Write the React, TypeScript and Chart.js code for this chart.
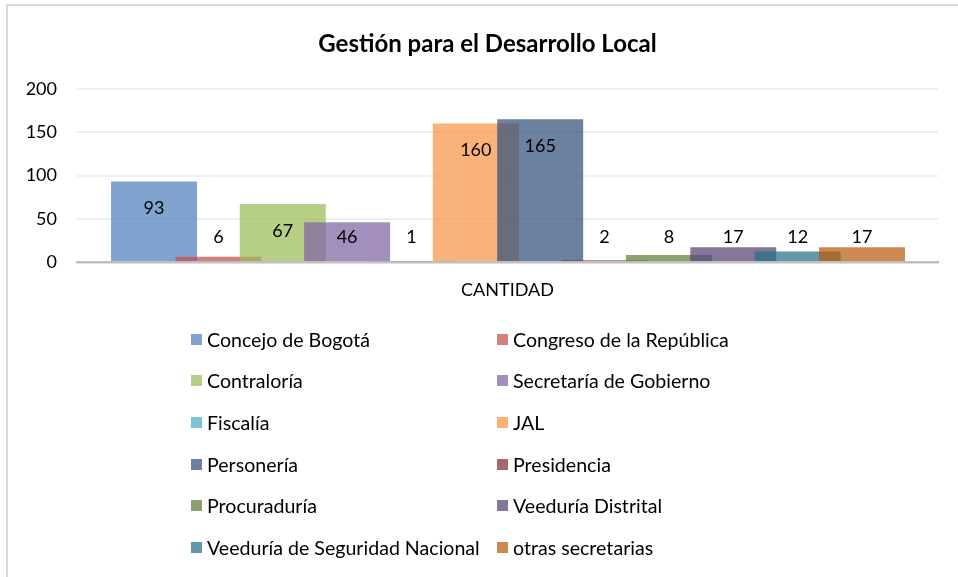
import React, { useEffect, useRef } from "react";
import { Chart, registerables } from "chart.js";

Chart.register(...registerables);

const chartTitle = "Gestión para el Desarrollo Local";
const categories = ["CANTIDAD"];
const seriesNames = [
  "Concejo de Bogotá",
  "Congreso de la República",
  "Contraloría",
  "Secretaría de Gobierno",
  "Fiscalía",
  "JAL",
  "Personería",
  "Presidencia",
  "Procuraduría",
  "Veeduría Distrital",
  "Veeduría de Seguridad Nacional",
  "otras secretarias",
];
const seriesValues = [93, 6, 67, 46, 1, 160, 165, 2, 8, 17, 12, 17];
const seriesColors = [
  "#4F81BD",
  "#C0504D",
  "#9BBB59",
  "#8064A2",
  "#4BACC6",
  "#F79646",
  "#30517B",
  "#7F3030",
  "#617B38",
  "#564373",
  "#257086",
  "#B85D0C",
];
const yTicks = [0, 50, 100, 150, 200];

const FONT = "Lato, 'Open Sans', 'DejaVu Sans', sans-serif";
const ALPHA = 0.72;

function rgba(hex: string, a: number): string {
  const n = parseInt(hex.slice(1), 16);
  return `rgba(${(n >> 16) & 255}, ${(n >> 8) & 255}, ${n & 255}, ${a})`;
}

const valueLabels = {
  id: "valueLabels",
  afterDatasetsDraw(chart: any) {
    const ctx = chart.ctx;
    ctx.save();
    ctx.font = `18px ${FONT}`;
    ctx.fillStyle = "#000";
    ctx.textAlign = "center";
    ctx.textBaseline = "middle";
    chart.data.datasets.forEach((_ds: any, i: number) => {
      const meta = chart.getDatasetMeta(i);
      meta.data.forEach((bar: any) => {
        const { x, y, base } = bar.getProps(["x", "y", "base"], true);
        const ly = Math.min(y + 27, base - 24);
        ctx.fillText(String(seriesValues[i]), x, ly);
      });
    });
    ctx.restore();
  },
};

// Center the title over the whole chart box (not only the padded layout area)
const widenTitle = {
  id: "widenTitle",
  afterLayout(chart: any) {
    if (chart.titleBlock) {
      chart.titleBlock.left = 0;
      chart.titleBlock.right = chart.width;
    }
  },
};

export default function App() {
  const canvasRef = useRef<HTMLCanvasElement | null>(null);

  useEffect(() => {
    if (!canvasRef.current) return;
    const n = seriesNames.length;
    const chart = new Chart(canvasRef.current, {
      type: "bar",
      data: {
        datasets: seriesNames.map((name, i) => ({
          label: name,
          data: [{ x: i, y: seriesValues[i] }],
          backgroundColor: rgba(seriesColors[i], ALPHA),
          borderWidth: 0,
          order: n - 1 - i,
          grouped: false,
          categoryPercentage: 1,
          barPercentage: 1.336,
        })),
      },
      options: {
        animation: false,
        responsive: false,
        maintainAspectRatio: false,
        devicePixelRatio: 1,
        layout: { padding: { left: 0, right: 37, top: 0, bottom: 265 } },
        plugins: {
          legend: { display: false },
          tooltip: { enabled: false },
          title: {
            display: true,
            text: chartTitle,
            color: "#000",
            font: { family: FONT, size: 24, weight: "bold" },
            padding: { top: 29.6, bottom: 30.6 },
          },
        },
        scales: {
          x: {
            type: "linear",
            bounds: "data",
            min: -1.197,
            max: 12.181,
            grid: { display: false },
            border: { display: true, color: "#bfbfbf", width: 2.5 },
            ticks: { display: false, includeBounds: false },
            afterBuildTicks: (s: any) => {
              s.ticks = [];
            },
            afterFit: (s: any) => {
              s.height = 50;
            },
            title: {
              display: true,
              text: categories[0],
              color: "#000",
              font: { family: FONT, size: 18 },
              padding: { top: 0, bottom: 11 },
            },
          },
          y: {
            min: 0,
            max: 200,
            afterBuildTicks: (s: any) => {
              s.ticks = yTicks.map((v) => ({ value: v }));
            },
            ticks: { color: "#000", font: { family: FONT, size: 18 }, padding: 20 },
            grid: { color: "#efefef", lineWidth: 2, drawTicks: false },
            border: { display: false },
            afterFit: (s: any) => {
              s.width = 77;
            },
          },
        },
      } as any,
      plugins: [valueLabels, widenTitle],
    });
    return () => chart.destroy();
  }, []);

  const rowTop = 339;
  const rowStep = 41.7;
  const colX = [191, 497];

  return (
    <div
      style={{
        position: "fixed",
        left: 0,
        top: 0,
        width: 958,
        height: 577,
        overflow: "hidden",
        background: "#fff",
      }}
    >
      <canvas
        ref={canvasRef}
        width={975}
        height={577}
        style={{ position: "absolute", left: 0, top: 0, width: 975, height: 577 }}
      />
      <div
        style={{
          position: "absolute",
          left: 6,
          top: 4,
          width: 1000,
          height: 1000,
          border: "2px solid #d9d9d9",
          pointerEvents: "none",
        }}
      />
      {seriesNames.map((name, i) => {
        const row = Math.floor(i / 2);
        const col = i % 2;
        return (
          <div
            key={name}
            style={{
              position: "absolute",
              left: colX[col],
              top: rowTop + row * rowStep - 12,
              height: 24,
              display: "flex",
              alignItems: "center",
              fontFamily: FONT,
              fontSize: 19.6,
              color: "#000",
              whiteSpace: "nowrap",
            }}
          >
            <span
              style={{
                display: "inline-block",
                width: 11,
                height: 11,
                background: rgba(seriesColors[i], ALPHA),
                marginRight: 5,
              }}
            />
            <span>{name}</span>
          </div>
        );
      })}
    </div>
  );
}
